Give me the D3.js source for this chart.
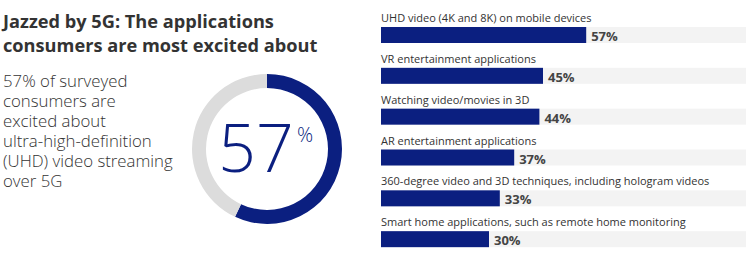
<!DOCTYPE html>
<html><head><meta charset="utf-8">
<script src="https://cdn.jsdelivr.net/npm/d3@7"></script>
<style>
html,body{margin:0;padding:0;background:#fff;}
svg{display:block;}
text{font-family:"Open Sans","Noto Sans",sans-serif;}
</style></head>
<body>
<svg id="c" width="750" height="259"></svg>
<script>
const titleLines = ["Jazzed by 5G: The applications", "consumers are most excited about"];
const subtitleLines = ["57% of surveyed", "consumers are", "excited about", "ultra-high-definition", "(UHD) video streaming", "over 5G"];
const donutValue = 57;
const categories = [
  "UHD video (4K and 8K) on mobile devices",
  "VR entertainment applications",
  "Watching video/movies in 3D",
  "AR entertainment applications",
  "360-degree video and 3D techniques, including hologram videos",
  "Smart home applications, such as remote home monitoring"
];
const values = [57, 45, 44, 37, 33, 30];

const blue = "#0b1f80", ring = "#dcdcdc", bg = "#f3f3f3", ink = "#333";
const svg = d3.select("#c");

// Title
svg.selectAll("text.title").data(titleLines).join("text").attr("class", "title")
  .attr("x", 3).attr("y", (d, i) => 28 + i * 24)
  .attr("font-size", 18.2).attr("font-weight", 700).attr("fill", ink).text(d => d);

// Subtitle
svg.selectAll("text.sub").data(subtitleLines).join("text").attr("class", "sub")
  .attr("x", 3).attr("y", (d, i) => 87 + i * 20)
  .attr("font-size", 16.8).attr("font-weight", 300).attr("fill", ink).text(d => d);

// Donut
const cx = 267, cy = 149, rOut = 75, rIn = 61;
const g = svg.append("g").attr("transform", `translate(${cx},${cy})`);
const pie = d3.pie().sort(null).value(d => d)([donutValue, 100 - donutValue]);
const arc = d3.arc().innerRadius(rIn).outerRadius(rOut);
g.selectAll("path").data(pie).join("path")
  .attr("d", arc).attr("fill", (d, i) => i ? ring : blue);
g.append("text").attr("x", -11).attr("y", 23)
  .attr("text-anchor", "middle").attr("fill", blue)
  .attr("font-size", 66).attr("font-weight", 300).text(donutValue);
g.append("text").attr("x", 30).attr("y", -7)
  .attr("font-size", 20).attr("font-weight", 300).attr("fill", blue).text("%");

// Bars
const x = d3.scaleLinear().domain([0, 100]).range([381, 741]);
const y = d3.scaleBand().domain(categories).range([7, 252]).paddingInner(0).paddingOuter(0);
const barH = 16;
const rows = svg.append("g").selectAll("g").data(categories).join("g")
  .attr("transform", d => `translate(0,${y(d)})`);
rows.append("rect").attr("x", x(0)).attr("y", 20).attr("width", 746 - x(0)).attr("height", barH).attr("fill", bg);
rows.append("rect").attr("x", x(0)).attr("y", 20)
  .attr("width", (d, i) => x(values[i]) - x(0)).attr("height", barH).attr("fill", blue);
rows.append("text").attr("x", x(0)).attr("y", 15)
  .attr("font-size", 11).attr("fill", ink).text(d => d);
rows.append("text").attr("x", (d, i) => x(values[i]) + 5).attr("y", 34)
  .attr("font-size", 13).attr("font-weight", 700).attr("fill", "#444")
  .text((d, i) => values[i] + "%");
</script>
</body></html>
